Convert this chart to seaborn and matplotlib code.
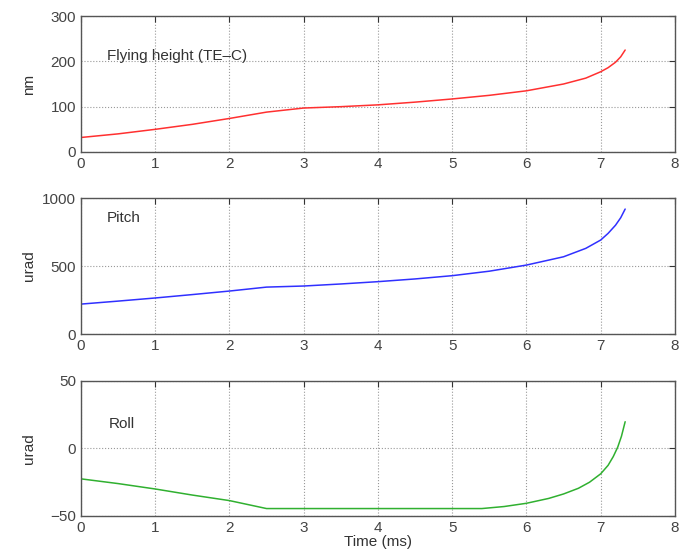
import matplotlib
matplotlib.use("Agg")
import matplotlib.pyplot as plt
import seaborn as sns
import pandas as pd

# --- data ---
t_height = [0.0, 0.5, 1.0, 1.5, 2.0, 2.5, 3.0, 3.5, 4.0, 4.5, 5.0, 5.5, 6.0, 6.5, 6.8, 7.0, 7.1, 7.2, 7.27, 7.33]
height_nm = [32, 40, 50, 61, 74, 88, 97, 100, 104, 110, 117, 125, 135, 150, 163, 177, 186, 198, 210, 225]

t_pitch = [0.0, 0.5, 1.0, 1.5, 2.0, 2.5, 3.0, 3.5, 4.0, 4.5, 5.0, 5.5, 6.0, 6.5, 6.8, 7.0, 7.1, 7.2, 7.27, 7.33]
pitch_urad = [220, 242, 265, 290, 316, 345, 353, 368, 385, 405, 429, 462, 507, 568, 630, 691, 740, 800, 855, 919]

t_roll = [0.0, 0.5, 1.0, 1.5, 2.0, 2.5, 3.0, 4.0, 5.0, 5.4, 5.7, 6.0, 6.3, 6.5, 6.7, 6.85, 7.0, 7.1, 7.17, 7.23, 7.28, 7.33]
roll_urad = [-22.5, -26, -30, -34.5, -38.6, -44.5, -44.5, -44.5, -44.5, -44.5, -43, -40.6, -37, -33.7, -29.5, -25, -18.8, -12.5, -6, 1, 9, 19.8]

xticks = [0, 1, 2, 3, 4, 5, 6, 7, 8]

sns.set_style("white")
plt.rcParams['font.family'] = ['Liberation Sans', 'DejaVu Sans']

fig = plt.figure(figsize=(6.8, 5.58), dpi=100)
left, width, h = 0.119, 0.8735, 0.2437
ax1 = fig.add_axes([left, 0.7276, width, h])
ax2 = fig.add_axes([left, 0.4014, width, h])
ax3 = fig.add_axes([left, 0.0753, width, 0.2420])

panels = [
    (ax1, t_height, height_nm, '#ff3030', (0, 300), [0, 100, 200, 300], 'nm', 'Flying height (TE\u2013C)', 0.35, 212),
    (ax2, t_pitch, pitch_urad, '#3030ff', (0, 1000), [0, 500, 1000], 'urad', 'Pitch', 0.35, 855),
    (ax3, t_roll, roll_urad, '#30b030', (-50, 50), [-50, 0, 50], 'urad', 'Roll', 0.38, 18),
]

for ax, t, v, c, ylim, yt, ylab, label, lx, ly in panels:
    df = pd.DataFrame({'t': t, 'v': v})
    sns.lineplot(data=df, x='t', y='v', ax=ax, color=c, linewidth=1.1)
    ax.set_xlim(0, 8)
    ax.set_ylim(*ylim)
    ax.set_xticks(xticks)
    ax.set_yticks(yt)
    ax.grid(True, linestyle=':', color='#999999', linewidth=0.8)
    ax.tick_params(direction='in', top=True, right=True, labelsize=11, length=4, colors='#333333', labelcolor='#444444')
    for s in ax.spines.values():
        s.set_color('#555555')
        s.set_linewidth(1.0)
    ax.set_ylabel(ylab, fontsize=11, color='#333333')
    ax.set_xlabel('')
    ax.text(lx, ly, label, fontsize=11, color='#333333', va='center', ha='left')

ax3.set_xlabel('Time (ms)', fontsize=11, color='#333333', labelpad=0)
for ax in (ax1, ax2, ax3):
    ax.yaxis.set_label_coords(-0.075, 0.5)

fig.savefig('out.png', dpi=100)
